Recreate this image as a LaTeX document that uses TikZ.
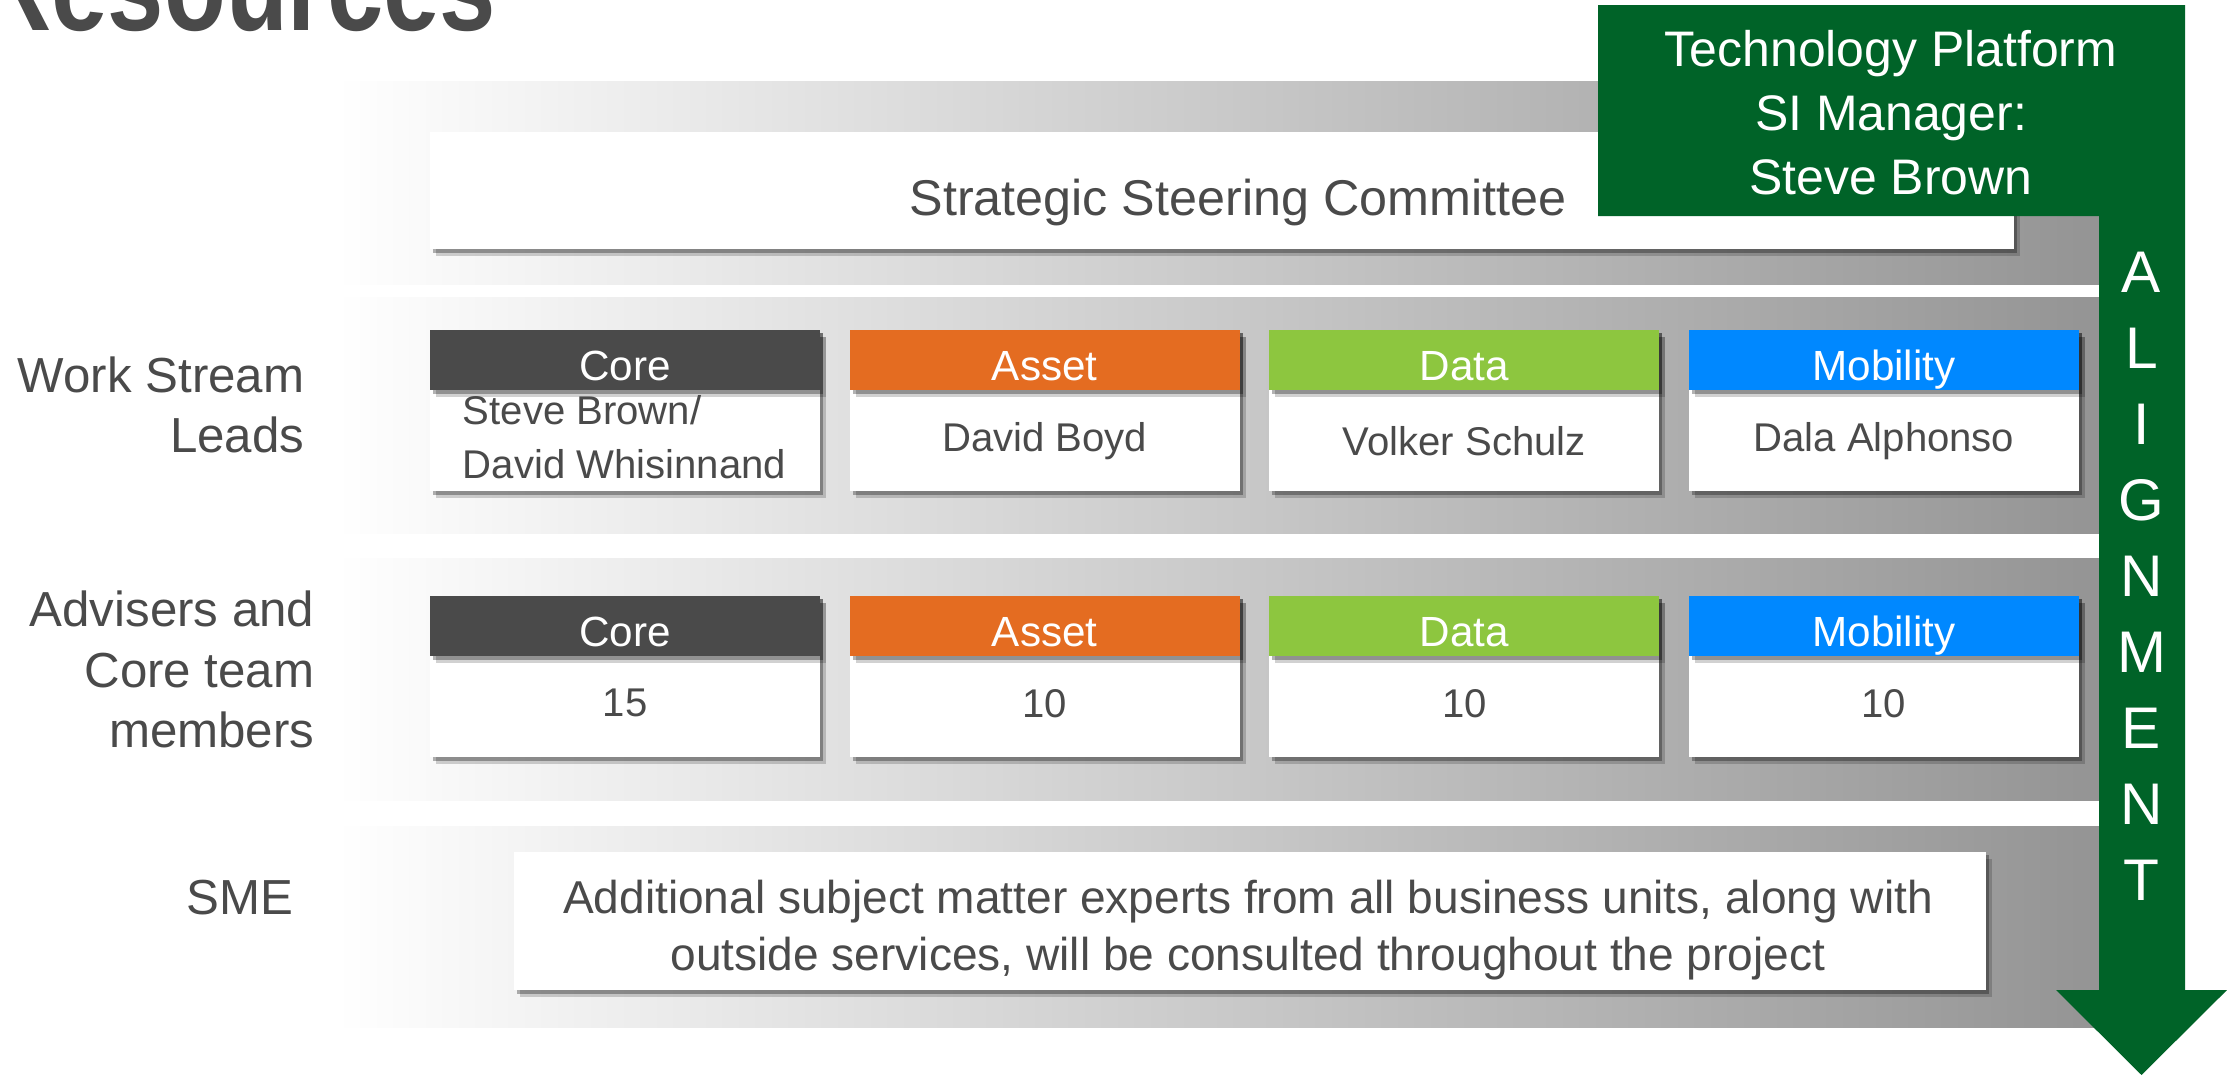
\documentclass[tikz,border=0pt]{standalone}
\usepackage{fontspec}
\setmainfont{Liberation Sans}
\newfontfamily\titlefont{Liberation Sans}[FakeStretch=0.8]
\usetikzlibrary{positioning,calc,shadows}
\definecolor{ink}{HTML}{4A4A4A}
\definecolor{tpgreen}{RGB}{0,99,40}
\definecolor{coregray}{HTML}{4A4A4A}
\definecolor{assetorange}{HTML}{E46C21}
\definecolor{datagreen}{HTML}{8DC63F}
\definecolor{mobblue}{HTML}{0088FF}
\tikzset{
  soft shadow/.style={drop shadow={shadow xshift=0.03cm,shadow yshift=-0.035cm,opacity=0.3,fill=black},
                      drop shadow={shadow xshift=0.06cm,shadow yshift=-0.07cm,opacity=0.18,fill=black}},
  band/.style={left color=white,right color=black!42},
  panel/.style={fill=white,inner sep=0pt,soft shadow},
  card/.style={panel,minimum width=3.9cm,minimum height=1.61cm},
  head/.style={inner sep=0pt,minimum width=3.9cm,minimum height=0.6cm,text=white,
               text height=11.8pt,text depth=0pt,font=\fontsize{12}{13}\selectfont,soft shadow},
  entry/.style={inner sep=0pt,text=ink,font=\fontsize{11.4}{15.2}\selectfont},
  rowlabel/.style={inner sep=0pt,text=ink,align=right,anchor=east,font=\fontsize{14}{17.1}\selectfont}
}

\begin{document}
\begin{tikzpicture}[x=0.01cm,y=-0.01cm]
    \useasboundingbox (0,0) rectangle (2227,1075);
    \clip (0,0) rectangle (2227,1075);
    \fill[white] (0,0) rectangle (2227,1075);

    \node[anchor=base east,inner sep=0pt,text=ink,font=\titlefont\fontsize{36}{38}\bfseries\selectfont] (title) at (497,30) {Resources};

    \shade[band] (335,81) rectangle (2099,284);
    \shade[band] (335,297) rectangle (2099,533);
    \shade[band] (335,558) rectangle (2099,800);
    \shade[band] (335,826) rectangle (2099,1027);

    \node[panel,minimum width=15.84cm,minimum height=1.17cm] (ssc) at (1222,190.5) {};
    \node[anchor=base,inner sep=0pt,text=ink,font=\fontsize{14.3}{17}\selectfont] (ssctext) at (1238,215) {Strategic Steering Committee};

    \node[card] (wcore) at (625,410.5) {};
    \node[card,right=0.28cm of wcore] (wasset) {};
    \node[card,right=0.28cm of wasset] (wdata) {};
    \node[card,right=0.28cm of wdata] (wmob) {};
    \node[head,fill=coregray,anchor=north] (wcoreh) at (wcore.north) {Core};
    \node[head,fill=assetorange,anchor=north] (wasseth) at (wasset.north) {Asset};
    \node[head,fill=datagreen,anchor=north] (wdatah) at (wdata.north) {Data};
    \node[head,fill=mobblue,anchor=north] (wmobh) at (wmob.north) {Mobility};
    \node[entry,align=left,anchor=west] (wcoret) at ($(wcoreh.south west)!0.5!(wcore.south west)+(33,-4)$) {Steve Brown/\\David Whisinnand};
    \node[entry] (wassett) at ($(wasseth.south)!0.5!(wasset.south)$) {David Boyd};
    \node[entry] (wdatat) at ($(wdatah.south)!0.5!(wdata.south)$) {Volker Schulz};
    \node[entry] (wmobt) at ($(wmobh.south)!0.5!(wmob.south)$) {Dala Alphonso};

    \node[card] (acore) at (625,676.5) {};
    \node[card,right=0.28cm of acore] (aasset) {};
    \node[card,right=0.28cm of aasset] (adata) {};
    \node[card,right=0.28cm of adata] (amob) {};
    \node[head,fill=coregray,anchor=north] (acoreh) at (acore.north) {Core};
    \node[head,fill=assetorange,anchor=north] (aasseth) at (aasset.north) {Asset};
    \node[head,fill=datagreen,anchor=north] (adatah) at (adata.north) {Data};
    \node[head,fill=mobblue,anchor=north] (amobh) at (amob.north) {Mobility};
    \node[entry] (acoret) at ($(acoreh.south)!0.5!(acore.south)+(0,-4)$) {15};
    \node[entry] (aassett) at ($(aasseth.south)!0.5!(aasset.south)+(0,-4)$) {10};
    \node[entry] (adatat) at ($(adatah.south)!0.5!(adata.south)+(0,-4)$) {10};
    \node[entry] (amobt) at ($(amobh.south)!0.5!(amob.south)+(0,-4)$) {10};

    \node[panel,minimum width=14.72cm,minimum height=1.38cm] (smebox) at (1250,921) {};
    \node[align=center,inner sep=0pt,text=ink,font=\fontsize{13.1}{16.2}\selectfont] (smetext) at (1248,930)
          {Additional subject matter experts from all business units, along with\\outside services, will be consulted throughout the project};

    \node[rowlabel] (wslabel) at (305,405) {Work Stream\\Leads};
    \node[rowlabel] (aclabel) at (315,669.5) {Advisers and\\Core team\\members};
    \node[rowlabel] (smelabel) at (294,898) {SME};

    \fill[tpgreen] (1598,5) -- (2185,5) -- (2185,990) -- (2227,990) -- (2141.5,1075)
        -- (2056,990) -- (2099,990) -- (2099,216) -- (1598,216) -- cycle;
    \node[align=center,text=white,font=\fontsize{14.2}{18.2}\selectfont] (tplabel) at (1891,113)
        {Technology Platform\\SI Manager:\\Steve Brown};
    \node[align=center,text=white,font=\fontsize{16.7}{21.6}\selectfont] (alignlabel) at (2141.5,576)
        {A\\L\\I\\G\\N\\M\\E\\N\\T};
\end{tikzpicture}
\end{document}
